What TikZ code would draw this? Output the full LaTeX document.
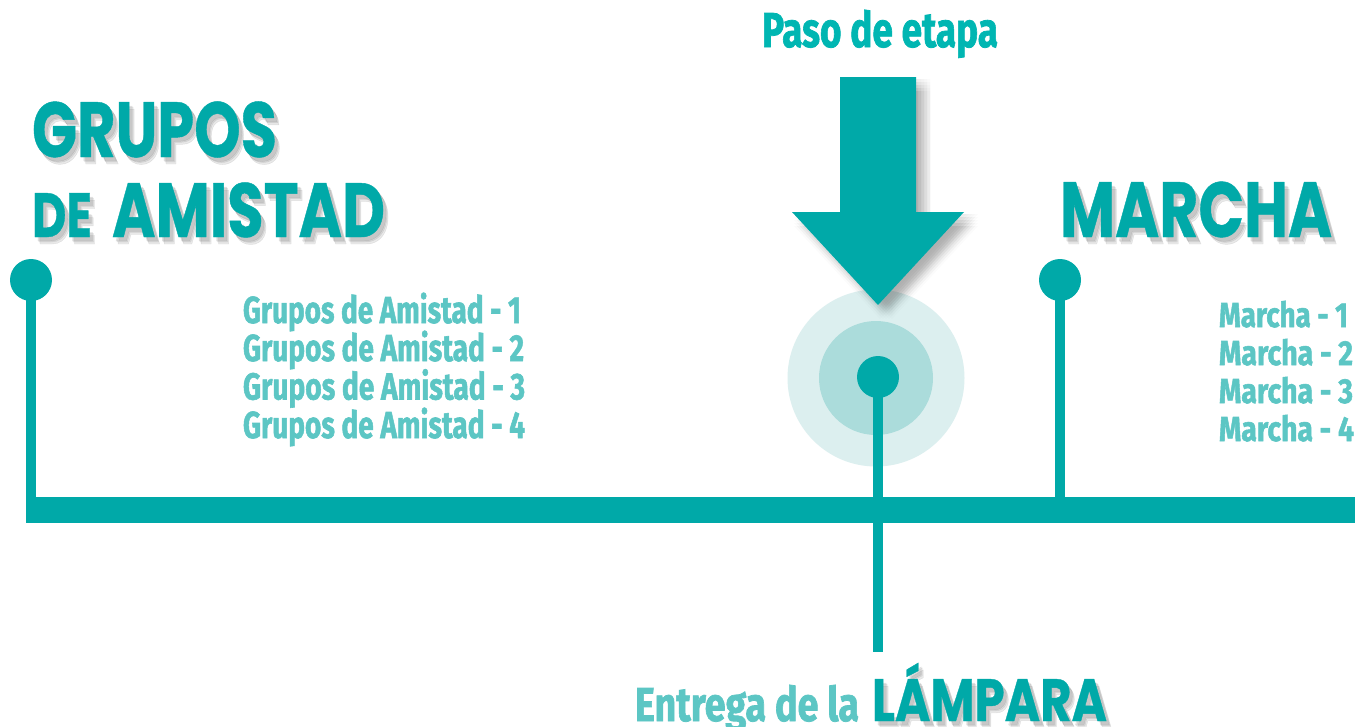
\documentclass[tikz,border=0pt]{standalone}
\usepackage{fontspec}
\usepackage{graphicx}
\newfontfamily\headfont{Poppins}[BoldFeatures={FakeBold=0.6}]
\newfontfamily\listfont{Fira Sans}[BoldFeatures={FakeBold=1.6}]
\definecolor{tealmain}{HTML}{00A9A8}
\definecolor{pasoc}{HTML}{00B6B2}
\definecolor{lightc}{HTML}{5CC6C4}
\definecolor{outerc}{HTML}{DCEFEF}
\definecolor{midc}{HTML}{ABDCDB}
\definecolor{shadowc}{HTML}{303030}
% scale text so that its cap height is #3 and its width is #2
\newcommand\fitcap[4]{\resizebox{#2}{#3}{#1\raisebox{0pt}[\fontcharht\font`H]{#4}}}
\newcommand\hf{\headfont\bfseries}
\newcommand\lf{\listfont\bfseries}
% heading with soft shadow: name, x, baseline y, width, cap height, text
\newcommand\headnode[6]{%
  \foreach \sx/\sy/\so in {3/4/0.10,5/7/0.10,4/5/0.09}{%
    \node[txt, text=shadowc, text opacity=\so] at (#2+\sx,#3+\sy) {\fitcap{\hf}{#4}{#5}{#6}};}%
  \node[txt, text=tealmain] (#1) at (#2,#3) {\fitcap{\hf}{#4}{#5}{#6}};}
\begin{document}
\begin{tikzpicture}[x=1pt,y=-1pt,
  txt/.style={inner sep=0pt, outer sep=0pt, anchor=base west},
  lst/.style={txt, text=lightc},
  dotnode/.style={circle, fill=tealmain, inner sep=0pt, minimum size=42pt},
  stem/.style={draw=tealmain, line width=10.5pt},
  barline/.style={draw=tealmain, line width=26pt}]
\useasboundingbox (0,0) rectangle (1355,726);
\fill[white] (0,0) rectangle (1355,726);

% main bar
\coordinate (barL) at (26,510);
\coordinate (barR) at (1355,510);
\draw[barline] (barL) -- (barR);

% target circles
\node[circle, fill=outerc, inner sep=0pt, minimum size=177pt] (outer) at (876,378) {};
\node[circle, fill=midc, inner sep=0pt, minimum size=114pt] (mid) at (876,378) {};

% arrow shadow (fake blur)
\foreach \dx in {2,5,8,11,14}{\foreach \dy in {2,5,8,11,14}{%
  \fill[shadowc, opacity=0.014, shift={(\dx,\dy)}]
    (840,77) -- (916,77) -- (916,212) -- (964,212) -- (878,305) -- (792,212) -- (840,212) -- cycle;}}
% arrow
\fill[tealmain] (840,77) -- (916,77) -- (916,212) -- (964,212) -- (878,305) -- (792,212) -- (840,212) -- cycle;
\coordinate (arrowtip) at (878,305);

% dots and stems
\node[dotnode] (ldot) at (31,280) {};
\node[dotnode] (rdot) at (1060,280) {};
\node[dotnode] (mdot) at (878,377) {};
\coordinate (lend) at (31,523);
\coordinate (rend) at (1060,523);
\coordinate (mend) at (878,652);
\draw[stem] (ldot.center) -- (lend);
\draw[stem] (rdot.center) -- (rend);
\draw[stem] (mdot.center) -- (mend);

% headings
\headnode{grupos}{32}{157}{245pt}{55pt}{GRUPOS}
\headnode{de}{32}{237}{60pt}{44pt}{DE}
\headnode{amistad}{112}{237}{273pt}{54pt}{AMISTAD}
\headnode{marcha}{1060}{237}{272pt}{55pt}{MARCHA}
\headnode{lampara}{872}{721}{235pt}{42pt}{LÁMPARA}

% top label
\node[txt, text=pasoc] (paso) at (762,47) {\fitcap{\lf}{236pt}{34pt}{Paso de etapa}};
% bottom label
\node[lst] (entrega) at (635,721) {\fitcap{\lf}{224pt}{33pt}{Entrega de la}};

% Grupos list
\node[lst] (g1) at (243,323) {\fitcap{\lf}{278pt}{26pt}{Grupos de Amistad - 1}};
\node[lst] (g2) at (243,361) {\fitcap{\lf}{281pt}{26pt}{Grupos de Amistad - 2}};
\node[lst] (g3) at (243,399.5) {\fitcap{\lf}{282pt}{26pt}{Grupos de Amistad - 3}};
\node[lst] (g4) at (243,438) {\fitcap{\lf}{282pt}{26pt}{Grupos de Amistad - 4}};

% Marcha list
\node[lst] (m1) at (1219,327) {\fitcap{\lf}{129pt}{24pt}{Marcha - 1}};
\node[lst] (m2) at (1219,365) {\fitcap{\lf}{134pt}{24pt}{Marcha - 2}};
\node[lst] (m3) at (1219,403) {\fitcap{\lf}{134pt}{24pt}{Marcha - 3}};
\node[lst] (m4) at (1219,441) {\fitcap{\lf}{135pt}{24pt}{Marcha - 4}};
\end{tikzpicture}
\end{document}
